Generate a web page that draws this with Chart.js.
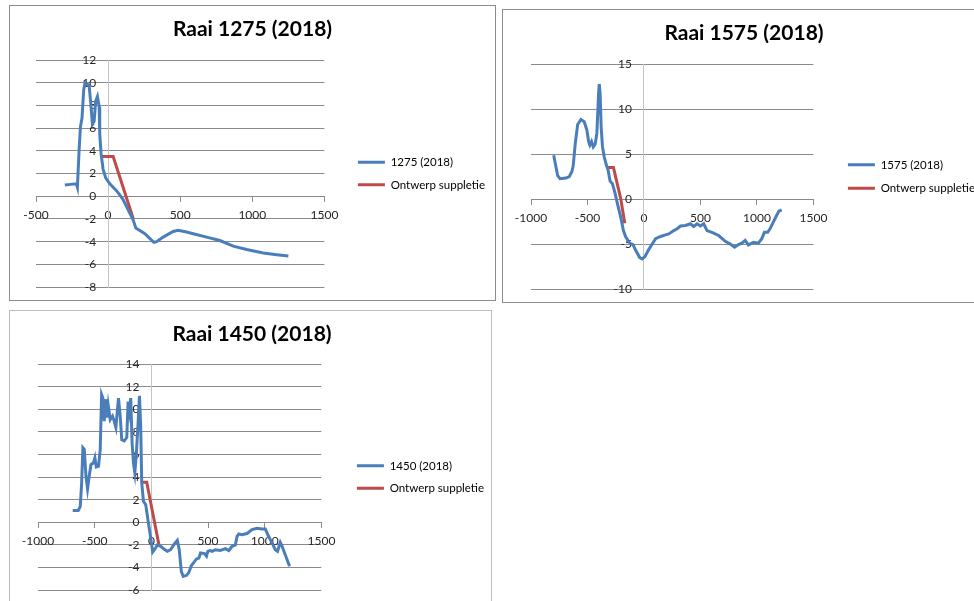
<!DOCTYPE html>
<html>
<head>
<meta charset="utf-8">
<script src="https://cdn.jsdelivr.net/npm/chart.js@4.4.1/dist/chart.umd.min.js"></script>
<style>
  body { margin: 0; background: #fff; width: 974px; height: 601px; overflow: hidden; position: relative; }
  .panel { position: absolute; border: 1px solid #8c8c8c; background: #fff; overflow: hidden; }
  .panel canvas { position: absolute; left: 0; top: 0; }
</style>
</head>
<body>
<div class="panel" style="left:9px; top:5px; width:485px; height:294px;">
  <canvas id="raai1275" width="485" height="294"></canvas>
</div>
<div class="panel" style="left:502px; top:9px; width:482px; height:292px;">
  <canvas id="raai1575" width="482" height="292"></canvas>
</div>
<div class="panel" style="left:9px; top:310px; width:481px; height:300px; border-color:#bdbdbd;">
  <canvas id="raai1450" width="484" height="300"></canvas>
</div>
<script>
// profile 1275 (2018)
const x1275 = [-300, -260, -220, -213, -201, -192, -181, -169, -160, -146, -132, -120, -109, -97, -86, -74, -62, -58, -49, -35,
  -16, 12, 58, 100, 139, 174, 192, 255, 317, 336, 382, 451, 486, 544, 590, 683, 775, 868, 961, 1076, 1169, 1250];
const y1275 = [1.0, 1.05, 1.1, 0.8, 4.1, 6.1, 6.9, 9.4, 10.0, 9.9, 9.8, 8.2, 6.4, 6.6, 8.4, 8.8, 7.9, 5.5, 3.8, 2.4,
  1.6, 1.1, 0.5, -0.2, -1.2, -2.1, -2.8, -3.3, -4.06, -4.0, -3.6, -3.1, -3.0, -3.15, -3.3, -3.6, -3.9, -4.4, -4.7, -5.0, -5.15, -5.26];
const ontwerpX1275 = [-45, 35, 175];
const ontwerpY1275 = [3.5, 3.5, -2.0];

// profile 1575 (2018)
const x1575 = [-799, -784, -764, -743, -690, -661, -637, -626, -608, -587, -558, -529, -505, -490, -479, -464, -449, -432, -417, -402,
  -396, -388, -379, -367, -352, -332, -317, -300, -279, -255, -235, -206, -182, -162, -126, -97, -73, -38, -15, 9,
  38, 73, 103, 147, 191, 220, 264, 294, 323, 367, 411, 441, 470, 499, 529, 558, 602, 661, 720, 764,
  802, 837, 866, 896, 925, 969, 1013, 1043, 1066, 1095, 1116, 1145, 1175, 1195, 1219];
const y1575 = [4.87, 3.9, 2.6, 2.27, 2.34, 2.5, 3.1, 3.75, 6.2, 8.3, 8.85, 8.6, 7.66, 6.4, 6.0, 6.4, 5.8, 6.1, 7.3, 11.7,
  12.8, 11.7, 8.0, 5.8, 4.7, 3.75, 3.2, 2.0, 1.7, 0.6, -0.5, -2.0, -3.5, -4.2, -4.9, -5.06, -5.7, -6.5, -6.65, -6.4,
  -5.7, -5.0, -4.4, -4.16, -3.98, -3.87, -3.5, -3.3, -3.0, -2.94, -2.75, -3.05, -2.75, -3.0, -2.75, -3.5, -3.7, -4.05, -4.7, -5.0,
  -5.35, -5.06, -4.9, -4.6, -5.1, -4.8, -4.9, -4.4, -3.7, -3.7, -3.3, -2.56, -1.8, -1.34, -1.2];
const ontwerpX1575 = [-335, -270, -205, -170];
const ontwerpY1575 = [3.5, 3.5, 0, -2.7];

// profile 1450 (2018)
const x1450 = [-694, -645, -627, -615, -604, -592, -577, -563, -548, -533, -510, -498, -486, -466, -451, -439, -428, -416, -401, -393,
  -381, -363, -343, -328, -313, -299, -290, -275, -261, -240, -217, -205, -193, -182, -170, -158, -146, -132, -117, -105,
  -94, -85, -70, -50, -26, -6, 12, 32, 53, 82, 111, 141, 170, 205, 229, 246, 264, 281, 311, 331,
  352, 375, 398, 419, 434, 469, 486, 498, 516, 536, 565, 609, 653, 683, 712, 741, 756, 771, 800, 844,
  888, 932, 976, 1005, 1034, 1064, 1093, 1113, 1137, 1151, 1181, 1219];
const y1450 = [1.04, 1.04, 1.4, 3.5, 6.6, 6.45, 4.1, 2.96, 4.1, 5.1, 5.27, 5.7, 4.9, 4.97, 6.45, 11.3, 11.0, 8.96, 10.9, 9.26,
  10.4, 9.1, 9.4, 8.96, 8.4, 10.0, 11.0, 9.4, 7.3, 7.2, 7.5, 10.7, 9.85, 11.0, 7.0, 5.27, 4.4, 6.15, 8.8, 11.2,
  8.5, 3.5, 1.86, 1.57, -0.06, -1.4, -2.63, -2.37, -2.0, -2.13, -2.37, -2.57, -2.43, -1.9, -1.6, -2.43, -4.35, -4.8, -4.7, -4.44,
  -3.85, -3.55, -3.25, -3.17, -2.72, -2.78, -3.0, -2.57, -2.5, -2.57, -2.43, -2.5, -2.34, -2.5, -2.13, -2.0, -1.24, -1.04, -1.1, -1.0,
  -0.65, -0.53, -0.6, -0.6, -1.24, -1.83, -2.43, -2.57, -1.78, -2.07, -2.87, -3.9];
const ontwerpX1450 = [-88, -41, 67];
const ontwerpY1450 = [3.55, 3.55, -2.0];

const BLUE = '#4a7ebb';
const RED = '#be4b48';
const GRID = '#8a8a8a';
const TICK_FONT = { size: 12 };

Chart.defaults.font.family = "Lato, 'Open Sans', sans-serif";
Chart.defaults.color = '#262626';

const toPoints = (xs, ys) => xs.map((x, i) => ({ x: x, y: ys[i] }));

// invisible axis, only used to reserve space on one side of the plot
const spacer = (side, size) => ({
  type: 'linear',
  position: side,
  ticks: { display: false },
  grid: { display: false },
  border: { display: false },
  afterFit: function (scale) {
    scale.width = size;
  },
});

function makeChart(id, opts) {
  const config = {
    type: 'scatter',
    data: {
      datasets: [
        {
          label: opts.label,
          data: toPoints(opts.x, opts.y),
          borderColor: BLUE,
          backgroundColor: BLUE,
          borderWidth: 3,
          showLine: true,
          pointRadius: 0,
          tension: 0,
        },
        {
          label: 'Ontwerp suppletie',
          data: toPoints(opts.ox, opts.oy),
          borderColor: RED,
          backgroundColor: RED,
          borderWidth: 3,
          showLine: true,
          pointRadius: 0,
          tension: 0,
        },
      ],
    },
    options: {
      responsive: false,
      animation: false,
      layout: {
        padding: { left: 0, right: 0, top: 0, bottom: opts.padBottom },
      },
      scales: {
        x: {
          type: 'linear',
          min: opts.xMin,
          max: 1500,
          position: { y: 0 },
          ticks: { stepSize: 500, autoSkip: false, maxRotation: 0, padding: 7, font: TICK_FONT, format: { useGrouping: false } },
          grid: { drawOnChartArea: false, drawTicks: true, tickLength: 5, color: GRID },
          border: { color: GRID },
        },
        y: {
          type: 'linear',
          min: opts.yMin,
          max: opts.yMax,
          position: { x: 0 },
          ticks: {
            stepSize: opts.yStep,
            autoSkip: false,
            font: TICK_FONT,
            // padding is not applied to an axis placed at x = 0, so pad the text itself
            callback: value => value + '\u2002\u2002',
          },
          grid: { color: GRID, drawTicks: false },
          border: { color: '#c4c4c4' },
        },
        leftGap: spacer('left', opts.left),
        rightGap: spacer('right', opts.gap),
      },
      plugins: {
        title: {
          display: true,
          text: opts.title,
          color: '#000',
          font: { size: 21, weight: 'bold' },
          padding: { top: 11, bottom: opts.titleBottom },
        },
        legend: {
          position: 'right',
          align: 'center',
          fullSize: false,
          maxWidth: 300,
          labels: {
            usePointStyle: true,
            pointStyle: 'line',
            pointStyleWidth: 27,
            color: '#000',
            font: { size: 11.5 },
            padding: opts.legendPad,
          },
        },
        tooltip: { enabled: false },
      },
    },
  };
  return new Chart(document.getElementById(id), config);
}

makeChart('raai1275', {
  title: 'Raai 1275 (2018)', label: '1275 (2018)',
  x: x1275, y: y1275, ox: ontwerpX1275, oy: ontwerpY1275,
  xMin: -500, yMin: -8, yMax: 12, yStep: 2,
  left: 26, padBottom: 13, titleBottom: 18, gap: 22.5, legendPad: 11,
});

makeChart('raai1575', {
  title: 'Raai 1575 (2018)', label: '1575 (2018)',
  x: x1575, y: y1575, ox: ontwerpX1575, oy: ontwerpY1575,
  xMin: -1000, yMin: -10, yMax: 15, yStep: 5,
  left: 28, padBottom: 13, titleBottom: 18, gap: 22.5, legendPad: 12,
});

makeChart('raai1450', {
  title: 'Raai 1450 (2018)', label: '1450 (2018)',
  x: x1450, y: y1450, ox: ontwerpX1450, oy: ontwerpY1450,
  xMin: -1000, yMin: -6, yMax: 14, yStep: 2,
  left: 28, padBottom: 21, titleBottom: 17, gap: 24.5, legendPad: 11,
});
</script>
</body>
</html>
